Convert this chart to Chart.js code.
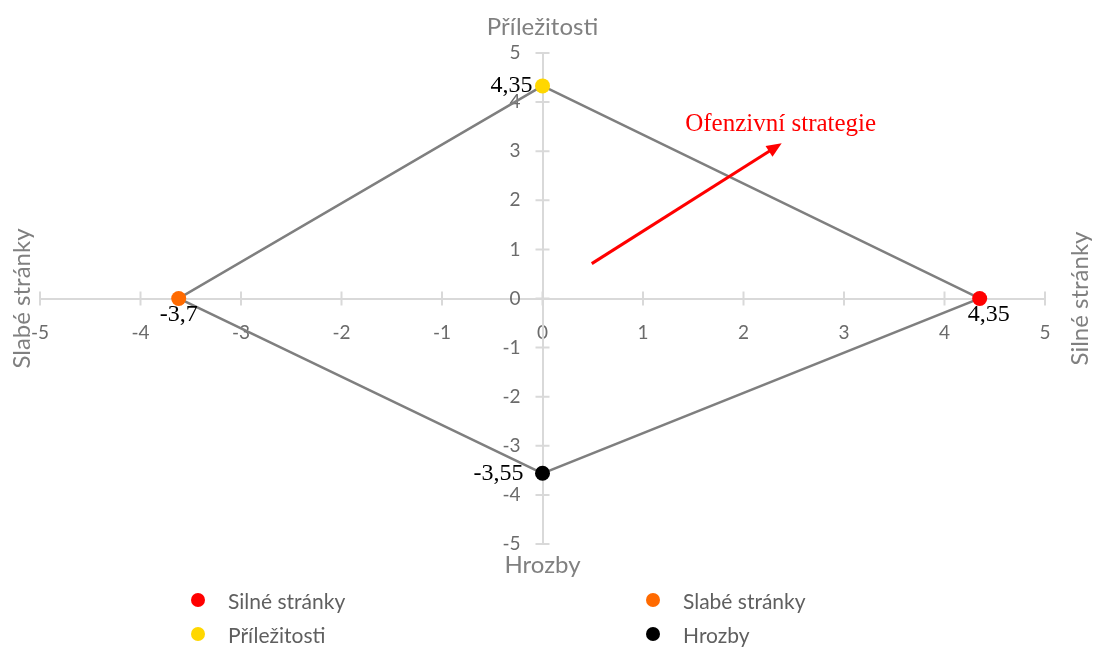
<!DOCTYPE html>
<html>
<head>
<meta charset="utf-8">
<script src="https://cdn.jsdelivr.net/npm/chart.js@4.4.1/dist/chart.umd.min.js"></script>
<style>
  html, body { margin: 0; padding: 0; background: #fff; }
  #wrap { position: relative; width: 1098px; height: 648px; }
  #legend {
    position: absolute; left: 191px; top: 583px;
    display: grid; grid-template-columns: 455px 300px; grid-auto-rows: 34px;
    font-family: Lato, sans-serif; font-size: 21px; color: #5f5f5f;
  }
  #legend .item { display: flex; align-items: center; }
  #legend .dot { width: 14px; height: 14px; border-radius: 50%; margin-right: 23px; }
</style>
</head>
<body>
<div id="wrap">
  <canvas id="swot" width="1098" height="648"></canvas>
  <div id="legend"></div>
</div>
<script>
// SWOT values (the orange point sits a bit right of -3.7 in the source)
const categories = ['Silné stránky', 'Slabé stránky', 'Příležitosti', 'Hrozby'];
const xValues = [4.35, -3.62, 0, 0];
const yValues = [0, 0, 4.33, -3.56];
const valueLabels = ['4,35', '-3,7', '4,35', '-3,55'];
const pointColors = ['#ff0000', '#ff6a00', '#ffd700', '#000000'];
const labelSide = ['below', 'below', 'left', 'left'];
const outlineOrder = [2, 0, 3, 1, 2]; // Příležitosti -> Silné -> Hrozby -> Slabé -> back
const axisMin = -5;
const axisMax = 5;
const axisTitles = { top: 'Příležitosti', bottom: 'Hrozby', left: 'Slabé stránky', right: 'Silné stránky' };
const arrowFrom = [0.49, 0.71];
const arrowTo = [2.38, 3.16];
const arrowText = 'Ofenzivní strategie';
const arrowTextAt = [2.37, 3.55];

const tickFont = { family: 'Lato', size: 19 };
const tickColor = '#6b6b6b';
const axisColor = '#d9d9d9';
// nudges for the value labels (px), per side
const labelGap = [{ dx: 9, dy: 16 }, { dx: 0, dy: 16 }, { dx: -10, dy: 0 }, { dx: -19, dy: 0 }];

const pointSets = categories.map((name, i) => ({
  label: name,
  data: [{ x: xValues[i], y: yValues[i] }],
  backgroundColor: pointColors[i],
  borderWidth: 0,
  pointRadius: 7.5,
  order: 0
}));

const outline = {
  label: 'outline',
  data: outlineOrder.map(i => ({ x: xValues[i], y: yValues[i] })),
  showLine: true,
  borderColor: '#7f7f7f',
  borderWidth: 2.5,
  pointRadius: 0,
  order: 10
};

const axisMarks = {
  id: 'axisMarks',
  beforeDatasetsDraw(chart) {
    const { ctx, scales: { x, y } } = chart;
    const x0 = x.getPixelForValue(0), y0 = y.getPixelForValue(0);
    ctx.save();
    ctx.strokeStyle = axisColor;
    ctx.lineWidth = 2;
    ctx.beginPath();
    x.ticks.forEach(t => {
      const px = x.getPixelForValue(t.value);
      ctx.moveTo(px, y0 - 7); ctx.lineTo(px, y0 + 7);
    });
    y.ticks.forEach(t => {
      const py = y.getPixelForValue(t.value);
      ctx.moveTo(x0 - 7, py); ctx.lineTo(x0 + 7, py);
    });
    ctx.stroke();
    // y tick labels sit left of the centred axis
    ctx.fillStyle = tickColor;
    ctx.font = `${tickFont.size}px ${tickFont.family}`;
    ctx.textAlign = 'right';
    ctx.textBaseline = 'middle';
    y.ticks.forEach(t => {
      ctx.fillText(String(t.value), x0 - 22, y.getPixelForValue(t.value));
    });
    ctx.restore();
  }
};

const extras = {
  id: 'extras',
  afterDatasetsDraw(chart) {
    const { ctx, chartArea, scales: { x, y } } = chart;
    ctx.save();

    // value labels
    ctx.font = '24px "Liberation Serif", serif';
    ctx.fillStyle = '#000';
    categories.forEach((c, i) => {
      const pt = chart.getDatasetMeta(i).data[0];
      const g = labelGap[i];
      ctx.textBaseline = 'middle';
      ctx.textAlign = labelSide[i] === 'left' ? 'right' : 'center';
      ctx.fillText(valueLabels[i], pt.x + g.dx, pt.y + g.dy);
    });

    // arrow
    const ax1 = x.getPixelForValue(arrowFrom[0]), ay1 = y.getPixelForValue(arrowFrom[1]);
    const ax2 = x.getPixelForValue(arrowTo[0]), ay2 = y.getPixelForValue(arrowTo[1]);
    const ang = Math.atan2(ay2 - ay1, ax2 - ax1);
    const head = 15;
    ctx.strokeStyle = '#ff0000';
    ctx.fillStyle = '#ff0000';
    ctx.lineWidth = 3;
    ctx.beginPath();
    ctx.moveTo(ax1, ay1);
    ctx.lineTo(ax2 - head * 0.8 * Math.cos(ang), ay2 - head * 0.8 * Math.sin(ang));
    ctx.stroke();
    ctx.beginPath();
    ctx.moveTo(ax2, ay2);
    ctx.lineTo(ax2 - head * Math.cos(ang) + 6.5 * Math.sin(ang), ay2 - head * Math.sin(ang) - 6.5 * Math.cos(ang));
    ctx.lineTo(ax2 - head * Math.cos(ang) - 6.5 * Math.sin(ang), ay2 - head * Math.sin(ang) + 6.5 * Math.cos(ang));
    ctx.closePath();
    ctx.fill();

    ctx.font = '25px "Liberation Serif", serif';
    ctx.textAlign = 'center'; ctx.textBaseline = 'middle';
    ctx.fillText(arrowText, x.getPixelForValue(arrowTextAt[0]), y.getPixelForValue(arrowTextAt[1]));

    // axis titles
    const x0 = x.getPixelForValue(0), y0 = y.getPixelForValue(0);
    ctx.fillStyle = '#808080';
    ctx.font = '24px Lato, sans-serif';
    ctx.textAlign = 'center'; ctx.textBaseline = 'middle';
    ctx.fillText(axisTitles.top, x0, chartArea.top - 26);
    ctx.fillText(axisTitles.bottom, x0, chartArea.bottom + 21);
    ctx.save();
    ctx.translate(22, y0);
    ctx.rotate(-Math.PI / 2);
    ctx.fillText(axisTitles.left, 0, 0);
    ctx.restore();
    ctx.save();
    ctx.translate(chart.width - 18, y0);
    ctx.rotate(-Math.PI / 2);
    ctx.fillText(axisTitles.right, 0, 0);
    ctx.restore();

    ctx.restore();
  }
};

const chart = new Chart(document.getElementById('swot'), {
  type: 'scatter',
  data: { datasets: [...pointSets, outline] },
  options: {
    responsive: false,
    animation: false,
    layout: { padding: { left: 40, right: 53, top: 53, bottom: 104 } },
    plugins: { legend: { display: false }, tooltip: { enabled: false } },
    scales: {
      x: {
        type: 'linear', min: axisMin, max: axisMax,
        position: { y: 0 },
        grid: { drawOnChartArea: false, drawTicks: false },
        border: { color: axisColor, width: 2 },
        ticks: { stepSize: 1, autoSkip: false, color: tickColor, font: tickFont, padding: 23 }
      },
      y: {
        type: 'linear', min: axisMin, max: axisMax,
        position: { x: 0 },
        grid: { drawOnChartArea: false, drawTicks: false },
        border: { color: axisColor, width: 2 },
        ticks: { stepSize: 1, autoSkip: false, display: false }
      }
    }
  },
  plugins: [axisMarks, extras]
});

document.getElementById('legend').innerHTML = pointSets.map(ds => `
  <div class="item"><span class="dot" style="background:${ds.backgroundColor}"></span>${ds.label}</div>
`).join('');
</script>
</body>
</html>
